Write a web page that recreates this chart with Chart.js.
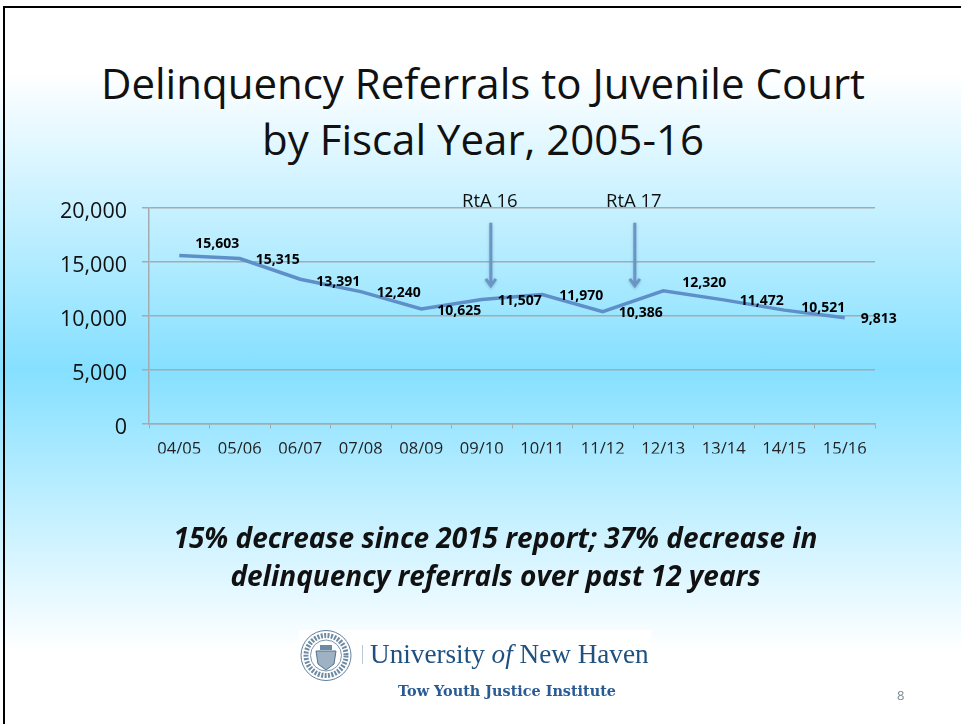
<!doctype html>
<html lang="en">
<head>
<meta charset="utf-8">
<title>Delinquency Referrals to Juvenile Court</title>
<script src="https://cdn.jsdelivr.net/npm/chart.js@4"></script>
<style>
html, body { margin: 0; padding: 0; }
body {
	position: relative; width: 961px; height: 724px; overflow: hidden;
	font-family: "Open Sans", sans-serif; color: #111;
	background: linear-gradient(to bottom, #fff 0%, #fff 10%, #85e0ff 51%, #fff 90%, #fff 100%);
}
#frame { position: absolute; left: 3px; top: 6px; width: 961px; height: 724px; border: 2px solid #000; box-sizing: border-box; }
#chart { position: absolute; left: 0; top: 0; }
.line { position: absolute; white-space: nowrap; text-align: center; }
#title1, #title2 { left: 0; width: 966px; font-size: 42px; line-height: 48px; }
#title1 { top: 59px; }
#title2 { top: 115px; }
#note1, #note2 { left: 0; width: 991px; font-size: 28px; line-height: 36px; font-weight: bold; font-style: italic; }
#note1 { top: 519px; }
#note2 { top: 557px; }
#logo { position: absolute; left: 299px; top: 630px; width: 352px; height: 52px; background: #fff; }
#seal { position: absolute; left: 0; top: 0; }
#bar { position: absolute; left: 63px; top: 15px; width: 1px; height: 19px; background: #b8c8d4; }
#uni { left: 71px; top: 6px; font: 27.2px/36px "Liberation Serif", serif; color: #1f5180; }
#tow { left: 398px; top: 679px; font: bold 14.4px/24px "DejaVu Serif", serif; color: #2a5a95; }
#page { left: 897px; top: 686px; font-size: 13px; line-height: 18px; color: #7b8a92; }
</style>
</head>
<body>
<div id="frame"></div>
<div class="line" id="title1">Delinquency Referrals to Juvenile Court</div>
<div class="line" id="title2">by Fiscal Year, 2005-16</div>
<canvas id="chart" width="961" height="724"></canvas>
<div class="line" id="note1">15% decrease since 2015 report; 37% decrease in</div>
<div class="line" id="note2">delinquency referrals over past 12 years</div>
<div id="logo">
	<svg id="seal" width="60" height="52" viewBox="0 0 60 52">
		<circle cx="27" cy="25.5" r="25" fill="#fff" stroke="#5f7f9c" stroke-width="1"/>
		<circle cx="27" cy="25.5" r="15.5" fill="#fff" stroke="#7d95ab" stroke-width="1"/>
		<circle cx="27" cy="25.5" r="20" fill="none" stroke="#6d89a3" stroke-width="5" stroke-dasharray="2 1.4"/>
		<path d="M17 21h20l-2 13-8 6-8-6z" fill="#9fb2c3" stroke="#53718d" stroke-width="1"/>
		<path d="M21 15h12v5H21z" fill="#6d89a3"/>
	</svg>
	<div id="bar"></div>
	<div class="line" id="uni">University <i>of</i> New Haven</div>
</div>
<div class="line" id="tow">Tow Youth Justice Institute</div>
<div class="line" id="page">8</div>
<script>
const categories = ['04/05', '05/06', '06/07', '07/08', '08/09', '09/10', '10/11', '11/12', '12/13', '13/14', '14/15', '15/16'];
const referrals = [15603, 15315, 13391, 12240, 10625, 11507, 11970, 10386, 12320, 11472, 10521, 9813];
const yTicks = [0, 5000, 10000, 15000, 20000];

// where the arrows sit, in category index / axis units
const arrowNames = ['RtA 16', 'RtA 17'];
const arrowAt = [5.15, 7.53];
const arrowTop = 18630;
const arrowTip = 12690;

// data labels were moved by hand in the original, so each has its own nudge
const labelDx = [38, 38, 38, 38, 38, 38, 39, 38, 41, 38, 39, 34];
const labelDy = [-11, 1.5, 3, 1.5, 2, 1.5, 1.5, 1.5, -8, 1, -2, 1];

const lineColor = '#5f8fc8';
const gridColor = '#a3abb0';
const fmt = function(v) { return v.toLocaleString('en-US'); };

const notes = {
	id: 'notes',
	afterDatasetsDraw: function(chart) {
		const ctx = chart.ctx;
		const x = chart.scales.x, y = chart.scales.y;
		const pts = chart.getDatasetMeta(0).data;

		ctx.save();
		ctx.fillStyle = '#000';
		ctx.font = 'bold 14px "Open Sans"';
		ctx.textAlign = 'center';
		ctx.textBaseline = 'middle';
		referrals.forEach(function(v, i) {
			ctx.fillText(fmt(v), pts[i].x + labelDx[i], pts[i].y + labelDy[i]);
		});

		arrowAt.forEach(function(at, i) {
			const px = x.getPixelForValue(at);
			const top = y.getPixelForValue(arrowTop);
			const tip = y.getPixelForValue(arrowTip);
			ctx.font = '18.5px "Open Sans"';
			ctx.fillStyle = '#111';
			ctx.fillText(arrowNames[i], px - 1, 202);

			ctx.strokeStyle = '#6a96c6';
			ctx.lineWidth = 3;
			ctx.shadowColor = 'rgba(60,90,120,0.35)';
			ctx.shadowBlur = 3;
			ctx.shadowOffsetY = 1;
			ctx.beginPath();
			ctx.moveTo(px, top);
			ctx.lineTo(px, tip - 1);
			ctx.moveTo(px - 5, tip - 8);
			ctx.lineTo(px, tip - 1);
			ctx.lineTo(px + 5, tip - 8);
			ctx.stroke();
			ctx.shadowColor = 'transparent';
		});
		ctx.restore();
	}
};

new Chart(document.getElementById('chart'), {
	type: 'line',
	data: {
		labels: categories,
		datasets: [{
			data: referrals,
			borderColor: lineColor,
			borderWidth: 3.5,
			pointRadius: 0,
			tension: 0,
			fill: false
		}]
	},
	options: {
		responsive: false,
		animation: false,
		layout: { padding: { top: 208, right: 86, bottom: 270.5, left: 0 } },
		plugins: { legend: { display: false }, title: { display: false }, tooltip: { enabled: false } },
		scales: {
			x: {
				offset: true,
				afterFit: function(axis) { axis.height = 30; },
				grid: { offset: true, drawOnChartArea: false, color: gridColor, tickLength: 5, tickColor: gridColor },
				border: { color: gridColor, width: 1.5 },
				ticks: { color: '#222', font: { family: 'Open Sans', size: 16.5 }, padding: 11, maxRotation: 0, autoSkip: false }
			},
			y: {
				min: 0,
				max: 20000,
				afterFit: function(axis) { axis.width = 149; },
				afterBuildTicks: function(axis) { axis.ticks = yTicks.map(function(v) { return { value: v }; }); },
				grid: { color: gridColor, lineWidth: 1.5, tickLength: 7, tickColor: gridColor },
				border: { color: gridColor, width: 1.5 },
				// blank first line with a small line height pushes the label down a little
				ticks: { color: '#111', font: { family: 'Open Sans', size: 21.5, lineHeight: '8px' }, padding: 15, callback: function(v) { return ['', fmt(v)]; } }
			}
		}
	},
	plugins: [notes]
});
</script>
</body>
</html>
